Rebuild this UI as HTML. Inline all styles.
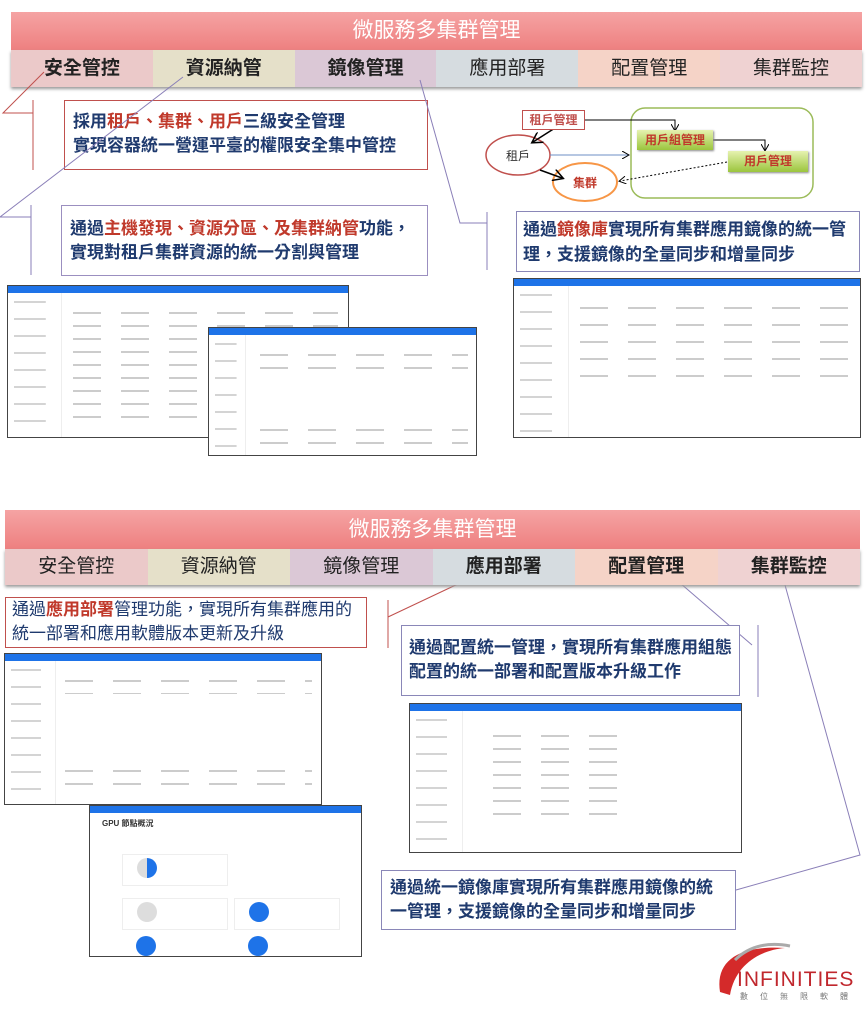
<!DOCTYPE html>
<html><head><meta charset="utf-8"><style>
*{margin:0;padding:0;box-sizing:border-box}
body{width:866px;height:1017px;background:#fff;position:relative;overflow:hidden;font-family:"Liberation Sans","Noto Sans CJK TC",sans-serif}
.a{position:absolute}
.title{background:linear-gradient(#f5a3a3,#ee8080);color:#fff;font-size:21px;text-align:center;line-height:38px}
.tabs{display:flex;box-shadow:0 2px 3px #999}
.tabs div{flex:1;text-align:center;font-size:19px;color:#222}
.box{position:absolute;background:#fff;font-size:17px;font-weight:bold;color:#1f3a6e;line-height:24px;padding:9px 0 0 8px;white-space:nowrap}
.r{color:#c0392b}
.ss{position:absolute;background:#fff;border:1.5px solid #444;overflow:hidden}
.ss .bar{height:7px;background:#1e73e8}
.ss .side{position:absolute;left:0;top:7px;bottom:0;width:16%;border-right:1px solid #eee;background:repeating-linear-gradient(#fff 0 8px,#d4d4d4 8px 10px,#fff 10px 17px);background-size:60% 100%;background-repeat:repeat-y;background-position:6px 0}
.ss .rows{position:absolute;left:19%;right:3%;top:20px;bottom:10px;background:repeating-linear-gradient(#fff 0 6px,#ccc 6px 8px,#fff 8px 13px),linear-gradient(90deg,transparent 0);-webkit-mask:repeating-linear-gradient(90deg,#000 0 28px,transparent 28px 48px);mask:repeating-linear-gradient(90deg,#000 0 28px,transparent 28px 48px)}
.node{position:absolute;font-size:12px;font-weight:bold;text-align:center}
</style></head><body>

<div class="a title" style="left:11px;top:12px;width:851px;height:38px">微服務多集群管理</div>
<div class="a tabs" style="left:11px;top:50px;width:851px;height:37px;line-height:37px">
<div style="background:#ebc9c9;font-weight:bold">安全管控</div><div style="background:#e5e0c9;font-weight:bold">資源納管</div><div style="background:#dbc8d6;font-weight:bold">鏡像管理</div><div style="background:#d6dce0">應用部署</div><div style="background:#f5d3c7">配置管理</div><div style="background:#efd2d2">集群監控</div></div>

<div class="box" style="left:64px;top:100px;width:364px;height:70px;border:1.5px solid #c0504d">採用<span class="r">租戶、集群、用戶</span>三級安全管理<br>實現容器統一營運平臺的權限安全集中管控</div>
<div class="box" style="left:61px;top:205px;width:367px;height:71px;border:1.5px solid #9b8fc0;padding-top:11px">通過<span class="r">主機發現、資源分區、及集群納管</span>功能，<br>實現對租戶集群資源的統一分割與管理</div>
<div class="box" style="left:516px;top:211px;width:344px;height:61px;border:1.5px solid #8a87b8;padding:5px 0 0 6px;line-height:25px">通過<span class="r">鏡像庫</span>實現所有集群應用鏡像的統一管<br>理，支援鏡像的全量同步和增量同步</div>

<svg class="a" style="left:0;top:0" width="866" height="1017">
<g fill="none" stroke-width="1">
<path d="M44 72 L3 113 L33 113 M33 100 V170" stroke="#c0504d"/>
<path d="M183 77 L0 217 L31 217 M31 205 V275" stroke="#8a7fb8"/>
<path d="M420 80 L460 223 L487 223 M487 212 V270" stroke="#8a7fb8"/>
<path d="M460 583 L388 617 M388 600 V648" stroke="#c0504d"/>
<path d="M680 583 L752 645 M758 625 V697" stroke="#8a7fb8"/>
<path d="M785 585 L860 855 L736 890" stroke="#8a7fb8"/>
</g>
<rect x="631" y="108" width="182" height="90" rx="14" fill="#fff" stroke="#9bbb59" stroke-width="1.5"/>
<ellipse cx="518" cy="155" rx="32" ry="20" fill="#fff" stroke="#c0504d" stroke-width="1.5"/>
<ellipse cx="585" cy="182" rx="32" ry="19" fill="#fff" stroke="#f79646" stroke-width="2"/>
<defs><marker id="m" markerWidth="8" markerHeight="8" refX="6" refY="4" orient="auto"><path d="M0 0L7 4L0 8" fill="none" stroke="#000"/></marker></defs>
<path d="M585 120 H675 V130" fill="none" stroke="#000" marker-end="url(#m)"/>
<path d="M712 140 H765 V150" fill="none" stroke="#000" marker-end="url(#m)"/>
<path d="M555 128 L533 142" stroke="#000" stroke-width="1.5" marker-end="url(#m)"/>
<path d="M540 170 L562 178" stroke="#000" stroke-width="1.5" marker-end="url(#m)"/>
<path d="M550 155 H628" stroke="#6e8fc5" marker-end="url(#m)"/>
<path d="M727 162 L620 181" stroke="#000" stroke-dasharray="2 2" marker-end="url(#m)"/>
<path d="M720 992 C 715 960 740 945 785 948 C 760 950 735 965 730 995 Z" fill="#d42a2a"/>
<path d="M735 960 C 750 945 770 942 790 946" stroke="#aaa" stroke-width="3" fill="none"/>
</svg>
<div class="node" style="left:522px;top:110px;width:63px;height:20px;line-height:18px;border:1.5px solid #c0504d;background:#fff;color:#c0504d">租戶管理</div>
<div class="node" style="left:637px;top:130px;width:76px;height:20px;line-height:20px;background:linear-gradient(#e6f2b0,#9bc53d);color:#c0392b;box-shadow:1px 1px 2px #888">用戶組管理</div>
<div class="node" style="left:728px;top:151px;width:80px;height:21px;line-height:21px;background:linear-gradient(#e6f2b0,#9bc53d);color:#c0392b;box-shadow:1px 1px 2px #888">用戶管理</div>
<div class="node" style="left:500px;top:147px;width:36px;font-weight:normal;color:#333">租戶</div>
<div class="node" style="left:567px;top:174px;width:36px;color:#c0392b">集群</div>

<div class="ss" style="left:7px;top:285px;width:342px;height:153px"><div class="bar"></div><div class="side"></div><div class="rows"></div></div>
<div class="ss" style="left:208px;top:327px;width:269px;height:129px"><div class="bar"></div><div class="side" style="width:14%"></div><div class="rows" style="bottom:80px"></div><div class="rows" style="top:95px"></div></div>
<div class="ss" style="left:513px;top:278px;width:348px;height:160px"><div class="bar"></div><div class="side"></div><div class="rows" style="top:20px;bottom:45px;background:repeating-linear-gradient(#fff 0 8px,#ccc 8px 10px,#fff 10px 17px)"></div></div>

<div class="a title" style="left:5px;top:510px;width:855px;height:39px;line-height:39px">微服務多集群管理</div>
<div class="a tabs" style="left:5px;top:549px;width:855px;height:36px;line-height:36px">
<div style="background:#ebc9c9">安全管控</div><div style="background:#e5e0c9">資源納管</div><div style="background:#dbc8d6">鏡像管理</div><div style="background:#d6dce0;font-weight:bold">應用部署</div><div style="background:#f5d3c7;font-weight:bold">配置管理</div><div style="background:#efd2d2;font-weight:bold">集群監控</div></div>

<div class="box" style="left:5px;top:597px;width:362px;height:51px;border:1.5px solid #c0504d;font-weight:normal;padding:0 0 0 6px;line-height:24px;color:#1f3a6e">通過<span class="r" style="font-weight:bold">應用部署</span>管理功能，實現所有集群應用的<br>統一部署和應用軟體版本更新及升級</div>
<div class="box" style="left:401px;top:625px;width:339px;height:71px;border:1.5px solid #8a87b8;padding:10px 0 0 7px">通過配置統一管理，實現所有集群應用組態<br>配置的統一部署和配置版本升級工作</div>
<div class="box" style="left:381px;top:870px;width:355px;height:60px;border:1.5px solid #8a87b8;padding:5px 0 0 8px">通過統一鏡像庫實現所有集群應用鏡像的統<br>一管理，支援鏡像的全量同步和增量同步</div>

<div class="ss" style="left:4px;top:653px;width:318px;height:152px"><div class="bar"></div><div class="side"></div><div class="rows" style="bottom:110px"></div><div class="rows" style="top:110px"></div></div>
<div class="ss" style="left:89px;top:805px;width:273px;height:152px"><div class="bar"></div>
<div class="a" style="left:12px;top:12px;font-size:8px;font-weight:bold;color:#333">GPU 節點概況</div>
<div class="a" style="left:32px;top:48px;width:106px;height:32px;border:1px solid #eee"><div class="a" style="left:14px;top:3px;width:20px;height:20px;border-radius:50%;background:linear-gradient(90deg,#ddd 50%,#1e73e8 50%)"></div></div>
<div class="a" style="left:32px;top:92px;width:106px;height:32px;border:1px solid #eee"><div class="a" style="left:14px;top:3px;width:20px;height:20px;border-radius:50%;background:#ddd"></div></div>
<div class="a" style="left:144px;top:92px;width:106px;height:32px;border:1px solid #eee"><div class="a" style="left:14px;top:3px;width:20px;height:20px;border-radius:50%;background:#1e73e8"></div></div>
<div class="a" style="left:46px;top:130px;width:20px;height:20px;border-radius:50%;background:#1e73e8"></div>
<div class="a" style="left:158px;top:130px;width:20px;height:20px;border-radius:50%;background:#1e73e8"></div>
</div>
<div class="ss" style="left:409px;top:703px;width:333px;height:150px"><div class="bar"></div><div class="side"></div><div class="rows" style="left:25%;right:35%;top:25px;bottom:30px"></div></div>

<div class="a" style="left:737px;top:968px;font-size:21px;color:#c0272d;letter-spacing:1px">INFINITIES</div>
<div class="a" style="left:740px;top:991px;font-size:8px;color:#777;letter-spacing:12px">數位無限軟體</div>
</body></html>
